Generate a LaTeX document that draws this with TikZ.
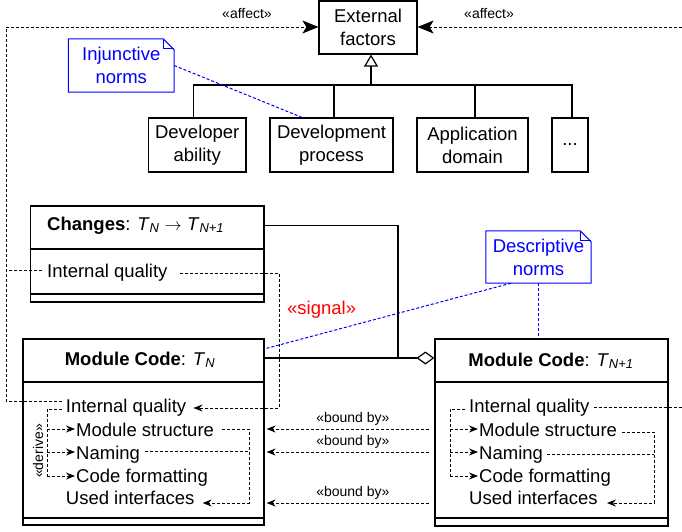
\documentclass[tikz,border=0pt]{standalone}
\usepackage{fontspec}
\setmainfont{Liberation Sans}
\usetikzlibrary{arrows.meta,calc}
\definecolor{nblue}{RGB}{0,0,255}
\definecolor{sred}{RGB}{255,0,0}
\newcommand{\fmain}{\fontsize{18.5}{23}\selectfont}
\newcommand{\fsmall}{\fontsize{14}{17}\selectfont}
\newcommand{\tsub}[2]{\textit{#1}\textsubscript{\textit{#2}}}
\begin{document}
\begin{tikzpicture}[x=1pt,y=-1pt,
  box/.style={draw, line width=1.2pt, inner sep=0pt, align=center, font=\fmain},
  cls/.style={draw, line width=1.2pt, inner sep=0pt},
  txt/.style={inner sep=0pt, anchor=base west, font=\fmain},
  lbl/.style={inner sep=0pt, font=\fsmall},
  dep/.style={line width=1pt, dash pattern=on 3pt off 2pt},
  bdep/.style={dep, draw=nblue},
  bigtip/.style={-{Stealth[length=16pt,width=13pt,inset=4pt]}},
  smalltip/.style={-{Stealth[length=9pt,width=7pt,inset=3pt]}},
  notetxt/.style={inner sep=0pt, align=center, font=\fmain, text=nblue},
  solid1/.style={line width=1.2pt},
]
\fill[white] (0,0) rectangle (682,531);
\useasboundingbox (0,0) rectangle (682,531);

% ---------- external factors tree ----------
\node[box, minimum width=98pt, minimum height=53pt] (ext) at (368,27.5) {External\\factors};
\node[box, minimum width=97.5pt, minimum height=54pt] (devab) at (197.25,145) {Developer\\ability};
\node[box, minimum width=123pt, minimum height=54pt] (devpr) at (331.5,145) {Development\\process};
\node[box, minimum width=111pt, minimum height=54pt] (appdo) at (472.5,145) {Application\\domain};
\node[box, minimum width=36pt, minimum height=54pt] (etc) at (570,145) {...};

\coordinate (bus) at (371,85);
\draw[solid1] ([xshift=-4pt]devab.north) |- (bus);
\draw[solid1] ([xshift=2.5pt]devpr.north) |- (bus);
\draw[solid1] ([xshift=2.5pt]appdo.north) |- (bus);
\draw[solid1] ([xshift=2pt]etc.north) |- (bus);
\draw[solid1, -{Triangle[open, length=12pt, width=14pt]}] (bus) -- ([xshift=3pt]ext.south);

% ---------- notes ----------
\node[notetxt, minimum width=105.5pt, minimum height=53pt] (inj) at (121.25,65.5) {Injunctive\\norms};
\draw[draw=nblue, line width=1pt] (inj.north west) -- ([xshift=-11pt]inj.north east) -- ([yshift=-11pt]inj.north east) -- (inj.south east) -- (inj.south west) -- cycle;
\draw[draw=nblue, line width=1pt] ([xshift=-11pt]inj.north east) -- ++(0,10) -- ++(11,0);

\node[notetxt, minimum width=105pt, minimum height=52pt] (des) at (538.5,257) {Descriptive\\norms};
\draw[draw=nblue, line width=1pt] (des.north west) -- ([xshift=-11pt]des.north east) -- ([yshift=-11pt]des.north east) -- (des.south east) -- (des.south west) -- cycle;
\draw[draw=nblue, line width=1pt] ([xshift=-11pt]des.north east) -- ++(0,10) -- ++(11,0);

% ---------- Changes class ----------
\node[cls, minimum width=233.5pt, minimum height=96pt] (chg) at (147.25,254) {};
\draw[solid1] (30.5,249) -- (264,249);
\draw[solid1] (30.5,294) -- (264,294);
\node[txt] (chgh) at (47,230) {\textbf{Changes}: \tsub{T}{N} $\rightarrow$ \tsub{T}{N+1}};
\node[txt] (iqc) at (47,277) {Internal quality};

% ---------- Module Code T_N ----------
\node[cls, minimum width=241pt, minimum height=186pt] (tn) at (143.5,432) {};
\draw[solid1] (23,382) -- (264,382);
\draw[solid1] (23,518) -- (264,518);
\node[font=\fmain, inner sep=0pt, anchor=base] (tnh) at (140,365) {\textbf{Module Code}: \tsub{T}{N}};
\node[txt] (iq0) at (65.7,412) {Internal quality};
\node[txt] (ms0) at (76,436) {Module structure};
\node[txt] (nm0) at (76,459) {Naming};
\node[txt] (cf0) at (76,482) {Code formatting};
\node[txt] (ui0) at (65.7,504) {Used interfaces};

% ---------- Module Code T_N+1 ----------
\node[cls, minimum width=233pt, minimum height=187pt] (tn1) at (551.5,432.5) {};
\draw[solid1] (435,382) -- (668,382);
\draw[solid1] (435,518) -- (668,518);
\node[font=\fmain, inner sep=0pt, anchor=base] (tn1h) at (551,366) {\textbf{Module Code}: \tsub{T}{N+1}};
\node[txt] (iq1) at (469,412) {Internal quality};
\node[txt] (ms1) at (479,436) {Module structure};
\node[txt] (nm1) at (479,459) {Naming};
\node[txt] (cf1) at (479,482) {Code formatting};
\node[txt] (ui1) at (469,504) {Used interfaces};

% ---------- associations ----------
\coordinate (jn) at (398,358);
\draw[solid1] (chg.east |- chgh.center) -| (jn);
\draw[solid1, -{Diamond[open, length=18pt, width=13pt]}] (tn.east |- jn) -- (tn1.west |- jn);

% ---------- affect ----------
\coordinate (lt) at (6,27);
\coordinate (rt) at (682,27);
\coordinate (re) at (682,407);
\coordinate (cq) at ([xshift=-5pt,yshift=7pt]iqc.base west);
\draw[dep, bigtip] ([xshift=-4pt,yshift=11pt]iq0.base west) -| (lt) -- (ext.west |- lt);
\draw[dep] (cq) -- (cq -| lt);
\draw[dep, bigtip] (rt) -- (ext.east |- rt);
\draw[dep] ([xshift=4pt,yshift=5pt]iq1.base east) -- (re);
\node[lbl, anchor=base] (aff1) at (247,18.5) {«affect»};
\node[lbl, anchor=base] (aff2) at (489,18.5) {«affect»};

% ---------- signal ----------
\coordinate (sg) at (279,408);
\draw[dep, smalltip] ([xshift=12pt,yshift=4pt]iqc.base east) -| (sg) -- ([xshift=7pt,yshift=4pt]iq0.base east);
\node[font=\fmain, text=sred, inner sep=0pt, anchor=base west] (sig) at (287,314) {«signal»};

% ---------- norms links ----------
\coordinate (tnb) at (264,349);
\draw[bdep] (inj.east) -- ([xshift=-29.5pt]devpr.north);
\draw[bdep] ([xshift=-27.5pt]des.south) -- (tnb);
\draw[bdep] (des.south) -- (tn1.north -| des.south);

% ---------- derive T_N ----------
\coordinate (d0) at (47,409);
\coordinate (m0) at ([xshift=-1pt,yshift=7pt]ms0.base west);
\coordinate (g0) at ([xshift=-1pt,yshift=7pt]nm0.base west);
\coordinate (c0) at ([xshift=-1pt,yshift=6pt]cf0.base west);
\draw[dep] ([xshift=-4pt,yshift=3pt]iq0.base west) -- (d0) -- (d0 |- c0);
\draw[dep, smalltip] (d0 |- m0) -- (m0);
\draw[dep, smalltip] (d0 |- g0) -- (g0);
\draw[dep, smalltip] (d0 |- c0) -- (c0);
\node[lbl, rotate=90] (dv) at (38,451) {«derive»};

% ---------- right side T_N ----------
\coordinate (r0) at (249,503);
\coordinate (n0) at ([xshift=5pt,yshift=8pt]nm0.base east);
\draw[dep, smalltip] ([xshift=8pt,yshift=7pt]ms0.base east) -| (r0) -- ([xshift=8pt,yshift=1pt]ui0.base east);
\draw[dep] (n0) -- (n0 -| r0);

% ---------- derive T_N+1 ----------
\coordinate (d1) at (450,409);
\coordinate (m1) at ([xshift=-1pt,yshift=7pt]ms1.base west);
\coordinate (g1) at ([xshift=-1pt,yshift=7pt]nm1.base west);
\coordinate (c1) at ([xshift=-1pt,yshift=6pt]cf1.base west);
\draw[dep] ([xshift=-4pt,yshift=3pt]iq1.base west) -- (d1) -- (d1 |- c1);
\draw[dep, smalltip] (d1 |- m1) -- (m1);
\draw[dep, smalltip] (d1 |- g1) -- (g1);
\draw[dep, smalltip] (d1 |- c1) -- (c1);

% ---------- right side T_N+1 ----------
\coordinate (r1) at (654,503);
\coordinate (n1) at ([xshift=4pt,yshift=5pt]nm1.base east);
\draw[dep, smalltip] ([xshift=5pt,yshift=4pt]ms1.base east) -| (r1) -- ([xshift=9pt,yshift=1pt]ui1.base east);
\draw[dep] (n1) -- (n1 -| r1);

% ---------- bound by ----------
\coordinate (y1) at (0,429);
\coordinate (y2) at (0,452);
\coordinate (y3) at (0,503);
\draw[dep, smalltip] ($(tn1.west |- y1)+(-5,0)$) -- node[lbl, above=3pt, pos=0.47] {«bound by»} ($(tn.east |- y1)+(2,0)$);
\draw[dep, smalltip] ($(tn1.west |- y2)+(-5,0)$) -- node[lbl, above=3pt, pos=0.47] {«bound by»} ($(tn.east |- y2)+(2,0)$);
\draw[dep, smalltip] ($(tn1.west |- y3)+(-5,0)$) -- node[lbl, above=3pt, pos=0.47] {«bound by»} ($(tn.east |- y3)+(2,0)$);
\end{tikzpicture}
\end{document}
